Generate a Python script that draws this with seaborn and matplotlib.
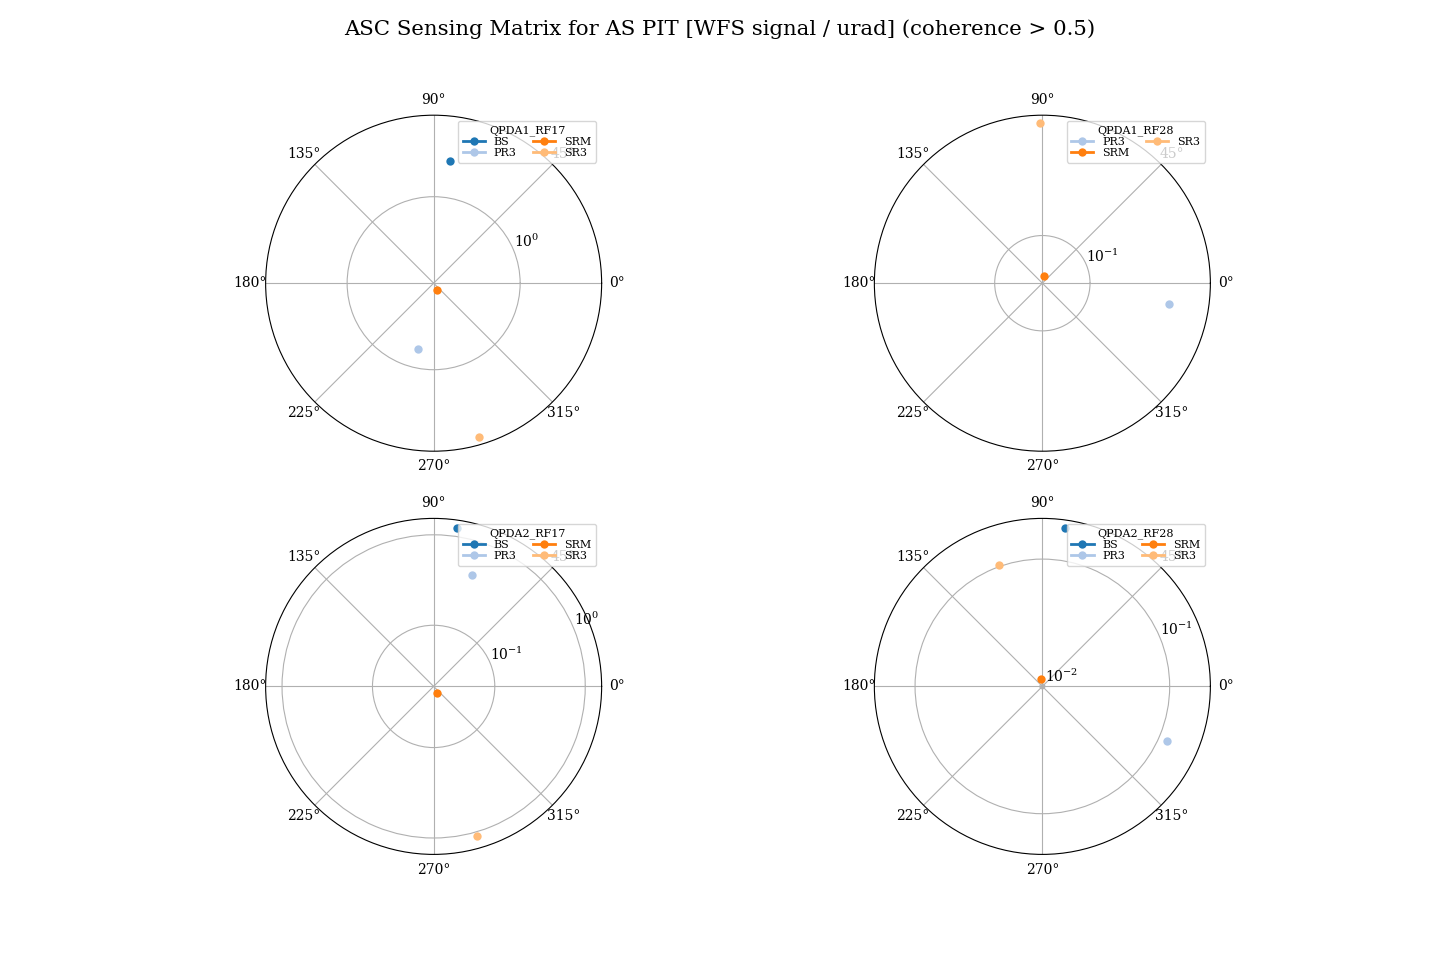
#!/usr/bin/env python3

import numpy as np
import pandas as pd
import seaborn as sns
from matplotlib import pyplot as plt

# sensing matrix values, one list per WFS/optic
sensors = ['QPDA1_RF17', 'QPDA1_RF28', 'QPDA2_RF17', 'QPDA2_RF28']

optics_per_sensor = {
    'QPDA1_RF17': ['BS', 'PR3', 'SRM', 'SR3'],
    'QPDA1_RF28': ['PR3', 'SRM', 'SR3'],
    'QPDA2_RF17': ['BS', 'PR3', 'SRM', 'SR3'],
    'QPDA2_RF28': ['BS', 'PR3', 'SRM', 'SR3'],
}

# magnitude [WFS signal / urad]
mag_qpda1_rf17 = [2.47, 0.627, 0.143, 6.18]
mag_qpda1_rf28 = [0.422, 0.049, 0.745]
mag_qpda2_rf17 = [1.25, 0.42, 0.0256, 1.10]
mag_qpda2_rf28 = [0.184, 0.117, 0.011, 0.104]

# phase [deg]
phase_qpda1_rf17 = [82.2, 256.3, 293.0, 286.5]
phase_qpda1_rf28 = [350.7, 81.0, 90.7]
phase_qpda2_rf17 = [81.6, 70.8, 300.0, 286.1]
phase_qpda2_rf28 = [81.8, 336.5, 97.0, 109.8]

mags = [mag_qpda1_rf17, mag_qpda1_rf28, mag_qpda2_rf17, mag_qpda2_rf28]
phases = [phase_qpda1_rf17, phase_qpda1_rf28, phase_qpda2_rf17, phase_qpda2_rf28]

all_optics = ['BS', 'PR3', 'SRM', 'SR3']


def plot(out_file='out.png'):
    plt.rcParams['font.family'] = ['DejaVu Serif']

    pal = sns.color_palette('tab20', 4)
    colors = dict(zip(all_optics, pal))

    f, axs = plt.subplots(2, 2, figsize=(14.4, 9.6), dpi=100,
                          subplot_kw={'projection': 'polar'})

    for ax, sensor, mag, phase in zip(axs.flat, sensors, mags, phases):
        df = pd.DataFrame({'optic': optics_per_sensor[sensor],
                           'theta': np.deg2rad(phase),
                           'mag': mag})

        ax.set_rscale('log')

        sns.lineplot(data=df, x='theta', y='mag', hue='optic',
                     palette=colors, marker='o', markersize=6,
                     markeredgewidth=0, linewidth=2, ax=ax)

        ax.set_xlabel('')
        ax.set_ylabel('')
        ax.tick_params(axis='x', pad=0.5)

        sns.move_legend(ax, 'upper right', title=sensor, ncol=2,
                        fontsize=8, title_fontsize=8,
                        handletextpad=0.8, columnspacing=1.5,
                        labelspacing=0.1, borderpad=0.4)

    f.suptitle('ASC Sensing Matrix for AS PIT [WFS signal / urad] (coherence > 0.5)',
               fontsize=15.3)

    f.savefig(out_file)


if __name__ == '__main__':
    plot()
